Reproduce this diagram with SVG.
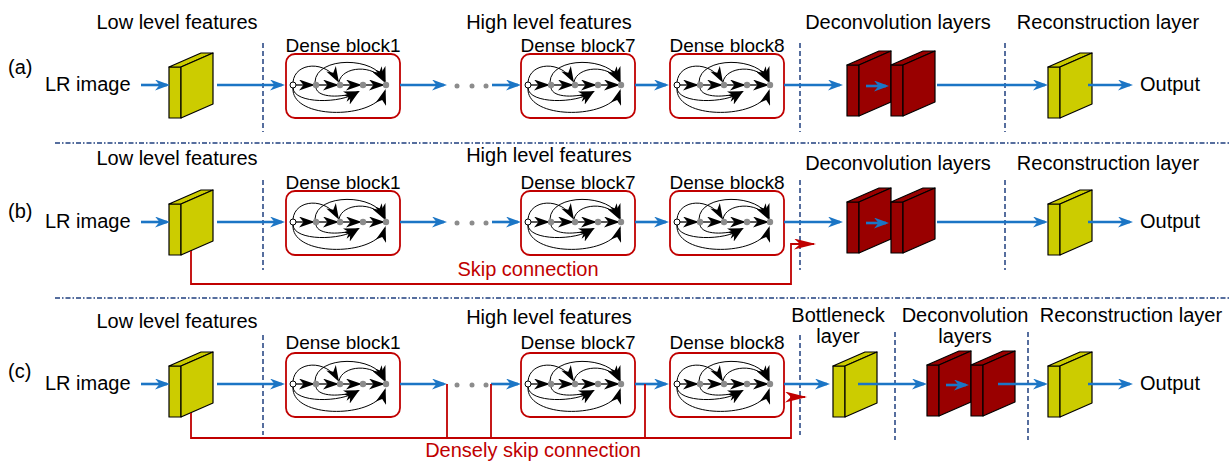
<svg xmlns="http://www.w3.org/2000/svg" xmlns:xlink="http://www.w3.org/1999/xlink" width="1231" height="462" viewBox="0 0 1231 462">
<style>
text{font-family:"Liberation Sans",Arial,sans-serif;font-size:20px;fill:#000}
.c{text-anchor:middle}
.db{font-size:19px}
.red{fill:#C00000}
.blue{stroke:#1B75C5;stroke-width:2.6;fill:none;marker-end:url(#ab)}
.redl{stroke:#C00000;stroke-width:1.8;fill:none}
.vsep{stroke:#1F3F7F;stroke-width:1.5;stroke-dasharray:5 3;fill:none}
.hsep{stroke:#1F3F7F;stroke-width:1.5;stroke-dasharray:5 2 1.5 2;fill:none}
.box{fill:#fff;stroke:#C00000;stroke-width:1.8}
.ar{stroke:#000;stroke-width:1;fill:none;marker-end:url(#ak)}
.st{stroke:#000;stroke-width:1.3;fill:none;marker-end:url(#ak)}
.y{fill:#CCCC00;stroke:#000;stroke-width:1.2;stroke-linejoin:round}
.r{fill:#990000;stroke:#000;stroke-width:1.2;stroke-linejoin:round}
.dot{fill:#8c8c8c}
</style>
<defs>
<marker id="ab" markerUnits="userSpaceOnUse" markerWidth="15" markerHeight="11" refX="12" refY="5.5" orient="auto"><path d="M0,0 L15,5.5 L0,11 L4.5,5.5 z" fill="#1B75C5"/></marker>
<marker id="ak" markerUnits="userSpaceOnUse" markerWidth="16" markerHeight="11" refX="14" refY="5.5" orient="auto"><path d="M0,0 L16,5.5 L0,11 L4.5,5.5 z" fill="#000"/></marker>
<marker id="ar" markerUnits="userSpaceOnUse" markerWidth="22" markerHeight="11" refX="20" refY="5.5" orient="auto"><path d="M0,0 L22,5.5 L0,11 L6,5.5 z" fill="#C00000"/></marker>
<g id="dense">
<rect class="box" x="0" y="0" width="114" height="64" rx="9"/>
<path class="ar" d="M7,28 C9,8 40,6 52,27"/>
<path class="ar" d="M29,28 C30,2 90,2 99,27"/>
<path class="ar" d="M53,28 C56,12 88,10 98,27"/>
<path class="ar" d="M7,34 C8,50 55,50 72,38"/>
<path class="ar" d="M30,34 C32,44 55,44 72,38"/>
<path class="ar" d="M7,34 C5,66 90,66 99,37"/>
<path class="st" d="M10,31 L27,31"/>
<path class="st" d="M33,31 L51,31"/>
<path class="st" d="M57,31 L74,31"/>
<path class="st" d="M80,31 L97,31"/>
<circle cx="7" cy="31" r="3" fill="#fff" stroke="#000" stroke-width="1"/>
<circle class="dot" cx="30" cy="31" r="3.2"/>
<circle class="dot" cx="54" cy="31" r="3.2"/>
<circle class="dot" cx="77" cy="31" r="3.2"/>
<circle class="dot" cx="100" cy="31" r="3.2"/>
</g>
<g id="ycube">
<rect class="y" x="0" y="0" width="12" height="51"/>
<polygon class="y" points="0,0 12,0 44,-14 32,-14"/>
<polygon class="y" points="12,0 44,-14 44,37 12,51"/>
</g>
<g id="rcube">
<rect class="r" x="0" y="0" width="12" height="51"/>
<polygon class="r" points="0,0 12,0 44,-14 32,-14"/>
<polygon class="r" points="12,0 44,-14 44,37 12,51"/>
</g>
</defs>
<rect width="1231" height="462" fill="#fff"/>

<g id="separators">
<line class="hsep" x1="55" y1="143" x2="1231" y2="143"/>
<line class="hsep" x1="55" y1="298" x2="1231" y2="298"/>
<line class="vsep" x1="263" y1="43" x2="263" y2="132"/>
<line class="vsep" x1="800" y1="43" x2="800" y2="132"/>
<line class="vsep" x1="1005" y1="43" x2="1005" y2="132"/>
<line class="vsep" x1="263" y1="180" x2="263" y2="270"/>
<line class="vsep" x1="800" y1="180" x2="800" y2="270"/>
<line class="vsep" x1="1005" y1="180" x2="1005" y2="270"/>
<line class="vsep" x1="263" y1="335" x2="263" y2="435"/>
<line class="vsep" x1="800" y1="335" x2="800" y2="435"/>
<line class="vsep" x1="895" y1="332" x2="895" y2="440"/>
<line class="vsep" x1="1028" y1="332" x2="1028" y2="440"/>
</g>

<g id="labels">
<text x="8" y="74">(a)</text>
<text x="8" y="218">(b)</text>
<text x="8" y="378">(c)</text>
<text class="c" x="177" y="29">Low level features</text>
<text class="c" x="549" y="29">High level features</text>
<text class="c" x="898" y="29">Deconvolution layers</text>
<text class="c" x="1108" y="29">Reconstruction layer</text>
<text class="c" x="177" y="165">Low level features</text>
<text class="c" x="549" y="162">High level features</text>
<text class="c" x="898" y="170">Deconvolution layers</text>
<text class="c" x="1108" y="170">Reconstruction layer</text>
<text class="c" x="177" y="328">Low level features</text>
<text class="c" x="549" y="324">High level features</text>
<text class="c" x="838" y="322">Bottleneck</text>
<text class="c" x="838" y="343">layer</text>
<text class="c" x="965" y="322">Deconvolution</text>
<text class="c" x="965" y="343">layers</text>
<text class="c" x="1131" y="322">Reconstruction layer</text>
</g>

<g id="a-lr"><text x="45" y="91">LR image</text></g>
<g id="a-low"><use xlink:href="#ycube" x="169" y="67"/></g>
<g id="a-db1"><text class="c db" x="343" y="52">Dense block1</text><use xlink:href="#dense" x="286" y="54"/></g>
<g id="a-db7"><text class="c db" x="578" y="52">Dense block7</text><use xlink:href="#dense" x="521" y="54"/></g>
<g id="a-db8"><text class="c db" x="727" y="52">Dense block8</text><use xlink:href="#dense" x="670" y="54"/></g>
<g id="a-dc1"><use xlink:href="#rcube" x="847" y="65"/></g>
<g id="a-dc1-arrow"><path class="blue" d="M866,86 L886,86"/></g>
<g id="a-dc2"><use xlink:href="#rcube" x="891" y="65"/></g>
<g id="a-rec"><use xlink:href="#ycube" x="1048" y="67"/></g>
<g id="a-out"><text x="1140" y="91">Output</text></g>

<g id="b-lr"><text x="45" y="228">LR image</text></g>
<g id="b-low"><use xlink:href="#ycube" x="169" y="204"/></g>
<g id="b-db1"><text class="c db" x="343" y="189">Dense block1</text><use xlink:href="#dense" x="286" y="191"/></g>
<g id="b-db7"><text class="c db" x="578" y="189">Dense block7</text><use xlink:href="#dense" x="521" y="191"/></g>
<g id="b-db8"><text class="c db" x="727" y="189">Dense block8</text><use xlink:href="#dense" x="670" y="191"/></g>
<g id="b-dc1"><use xlink:href="#rcube" x="847" y="202"/></g>
<g id="b-dc1-arrow"><path class="blue" d="M866,223 L886,223"/></g>
<g id="b-dc2"><use xlink:href="#rcube" x="891" y="202"/></g>
<g id="b-rec"><use xlink:href="#ycube" x="1048" y="204"/></g>
<g id="b-out"><text x="1140" y="228">Output</text></g>

<g id="c-lr"><text x="45" y="390">LR image</text></g>
<g id="c-low"><use xlink:href="#ycube" x="169" y="366"/></g>
<g id="c-db1"><text class="c db" x="343" y="349">Dense block1</text><use xlink:href="#dense" x="286" y="353"/></g>
<g id="c-db7"><text class="c db" x="578" y="349">Dense block7</text><use xlink:href="#dense" x="521" y="353"/></g>
<g id="c-db8"><text class="c db" x="727" y="349">Dense block8</text><use xlink:href="#dense" x="670" y="353"/></g>
<g id="c-bn"><use xlink:href="#ycube" x="833" y="366"/></g>
<g id="c-dc1"><use xlink:href="#rcube" x="927" y="365"/></g>
<g id="c-dc1-arrow"><path class="blue" d="M946,385 L966,385"/></g>
<g id="c-dc2"><use xlink:href="#rcube" x="971" y="365"/></g>
<g id="c-rec"><use xlink:href="#ycube" x="1048" y="366"/></g>
<g id="c-out"><text x="1140" y="390">Output</text></g>

<g id="connectors">
<path class="blue" d="M141,85 L167,85"/>
<path class="blue" d="M217,85 L282,85"/>
<path class="blue" d="M400,85 L444,85"/>
<path class="blue" d="M492,85 L518,85"/>
<path class="blue" d="M635,85 L666,85"/>
<path class="blue" d="M784,85 L840,85"/>
<path class="blue" d="M937,85 L1045,85"/>
<path class="blue" d="M1088,85 L1130,85"/>
<circle class="dot" cx="457" cy="86" r="2.5"/><circle class="dot" cx="472" cy="86" r="2.5"/><circle class="dot" cx="486" cy="86" r="2.5"/>

<path class="blue" d="M141,222 L167,222"/>
<path class="blue" d="M217,222 L282,222"/>
<path class="blue" d="M400,222 L444,222"/>
<path class="blue" d="M492,222 L518,222"/>
<path class="blue" d="M635,222 L666,222"/>
<path class="blue" d="M784,222 L840,222"/>
<path class="blue" d="M937,222 L1045,222"/>
<path class="blue" d="M1088,222 L1130,222"/>
<circle class="dot" cx="457" cy="223" r="2.5"/><circle class="dot" cx="472" cy="223" r="2.5"/><circle class="dot" cx="486" cy="223" r="2.5"/>
<path class="redl" d="M191,251 L191,284 L791,284 L791,244 L814,244" marker-end="url(#ar)"/>
<text class="c red" x="528" y="276">Skip connection</text>

<path class="blue" d="M141,384 L167,384"/>
<path class="blue" d="M217,384 L282,384"/>
<path class="blue" d="M400,384 L444,384"/>
<path class="blue" d="M491,384 L518,384"/>
<path class="blue" d="M635,384 L666,384"/>
<path class="blue" d="M784,384 L827,384"/>
<path class="blue" d="M858,384 L924,384"/>
<path class="blue" d="M998,384 L1045,384"/>
<path class="blue" d="M1088,384 L1130,384"/>
<circle class="dot" cx="457" cy="385" r="2.5"/><circle class="dot" cx="472" cy="385" r="2.5"/><circle class="dot" cx="486" cy="385" r="2.5"/>
<path class="redl" d="M191,413 L191,438 L791,438 L791,397 L805,397" marker-end="url(#ar)"/>
<path class="redl" d="M447,438 L447,384"/>
<path class="redl" d="M491,438 L491,384"/>
<path class="redl" d="M645,438 L645,384"/>
<text class="c red" x="533" y="457">Densely skip connection</text>
</g>
</svg>
